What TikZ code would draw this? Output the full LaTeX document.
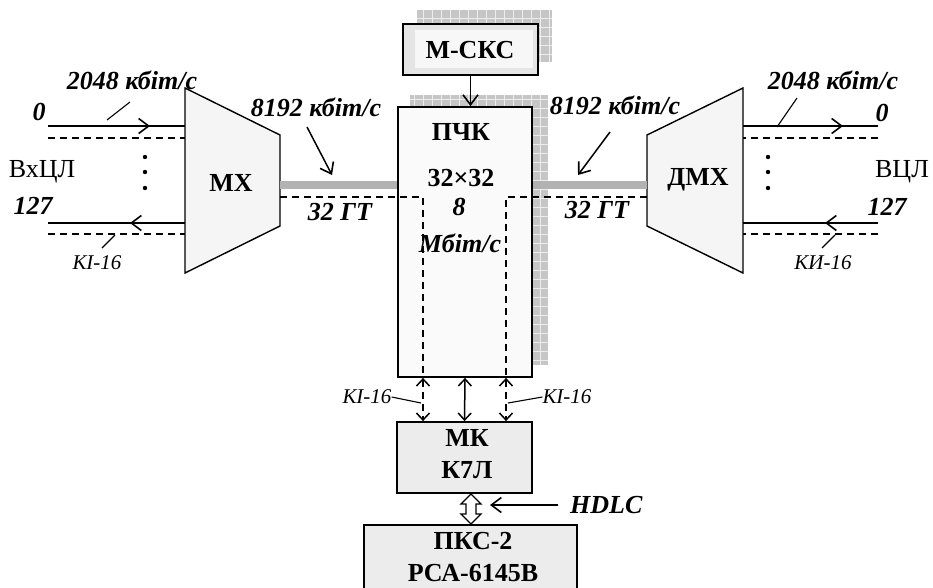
\documentclass[tikz,border=0pt]{standalone}
\usepackage{fontspec}
\setmainfont{Liberation Serif}
\usetikzlibrary{arrows.meta,calc}

\tikzset{
  bi/.style={font=\fontsize{26}{28}\selectfont\bfseries\itshape, inner sep=0pt},
  bb/.style={font=\fontsize{26}{32}\selectfont\bfseries, inner sep=0pt, align=center},
  rg/.style={font=\fontsize{26}{28}\selectfont, inner sep=0pt},
  ki/.style={font=\fontsize{21}{24}\selectfont\itshape, inner sep=0pt},
  blk/.style={draw, line width=1.8pt, inner sep=0pt},
  chan/.style={line width=1.5pt},
  dsh/.style={line width=1.4pt, dash pattern=on 7pt off 5pt},
  bus/.style={line width=8pt, gray!60},
  tip/.style={-{Straight Barb[length=10pt,width=15pt,line width=1.6pt]}},
  dtip/.style={{Straight Barb[length=7pt,width=13pt,line width=1.5pt]}-{Straight Barb[length=7pt,width=13pt,line width=1.5pt]}},
  lead/.style={line width=1.1pt}
}

\newcommand{\gridshadow}[2]{%
  \begin{scope}
    \clip #1 rectangle #2;
    \fill[gray!45] #1 rectangle #2;
    \draw[gray!15, line width=0.7pt, step=9pt] #1 grid #2;
  \end{scope}}

\begin{document}
\begin{tikzpicture}[x=1pt,y=-1pt]
  \useasboundingbox (0,0) rectangle (933,587);
  \clip (0,0) rectangle (933,587);

  % shadows
  \gridshadow{(410,95)}{(548,365)}
  \gridshadow{(417,10)}{(552,62)}

  % blocks
  \node[blk, fill=gray!4, minimum width=134pt, minimum height=270pt] (PCK) at (465,242) {};
  \node[blk, fill=gray!20, minimum width=135pt, minimum height=51pt,
        path picture={\fill[gray!6] ($(path picture bounding box.north west)+(12,6)$)
          rectangle ($(path picture bounding box.south east)+(-5,-7)$);}] (MSKS) at (470.5,49.5) {};
  \node[bb] (MSKStxt) at (470,50) {М-СКС};
  \node[blk, fill=gray!15, minimum width=135pt, minimum height=71pt] (MK) at (464.5,457.5) {};
  \node[bb] (MKtxt) at (467,454) {МК\\К7Л};
  \node[blk, fill=gray!15, minimum width=213pt, minimum height=90pt] (PKS) at (470.5,570) {};
  \node[bb] (PKStxt) at (473,557.5) {ПКС-2\\РСА-6145В};

  % multiplexer and demultiplexer
  \draw[line width=1.4pt, fill=gray!8] (185,88) coordinate (mxNW) -- (280,135) coordinate (mxNE)
    -- (280,226) -- (185,273) -- cycle;
  \draw[line width=1.4pt, fill=gray!8] (647,135) coordinate (dmNW) -- (743,88) coordinate (dmNE)
    -- (743,273) -- (647,226) -- cycle;
  \node[bb] (MX) at (231,183) {МХ};
  \node[bb] (DMX) at (698,180) {ДМХ};

  % switch texts
  \node[bb] (PCK1) at (461,132) {ПЧК};
  \node[bb] (PCK2) at (461,178) {32×32};
  \node[bi] (PCK3) at (459,207) {8};
  \node[bi] (PCK4) at (460,243) {Мбіт/с};

  % trunks to the switch
  \coordinate (mxO) at (280,185);
  \coordinate (dmO) at (647,185);
  \draw[bus] (mxO) -- (mxO -| PCK.west);
  \draw[bus] (dmO) -- (dmO -| PCK.east);
  \coordinate (xL) at (423,0);
  \coordinate (xR) at (506,0);
  \coordinate (mxD) at (280,197);
  \coordinate (dmD) at (647,197);
  \draw[dsh] (mxD) -- (mxD -| xL) -- (xL |- PCK.south);
  \draw[dsh] (dmD) -- (dmD -| xR) -- (xR |- PCK.south);

  % input lines
  \coordinate (in0) at (48,126);
  \coordinate (in0d) at (48,138);
  \coordinate (in127) at (48,223);
  \coordinate (in127d) at (48,234);
  \draw[chan] (in0) -- (in0 -| mxNW);
  \draw[dsh] (in0d) -- (in0d -| mxNW);
  \draw[chan] (in127) -- (in127 -| mxNW);
  \draw[dsh] (in127d) -- (in127d -| mxNW);
  \draw[chan, line width=2.2pt, tip] (107,126) -- (150,126);
  \draw[chan, line width=2.2pt, tip] (172,223) -- (130,223);
  \foreach \y in {157,172,188} \fill (145,\y) circle (2.2pt);

  % output lines
  \coordinate (out0) at (878,126);
  \coordinate (out0d) at (878,138);
  \coordinate (out127) at (878,223);
  \coordinate (out127d) at (878,234);
  \draw[chan] (out0) -- (out0 -| dmNE);
  \draw[dsh] (out0d) -- (out0d -| dmNE);
  \draw[chan] (out127) -- (out127 -| dmNE);
  \draw[dsh] (out127d) -- (out127d -| dmNE);
  \draw[chan, line width=2.2pt, tip] (802,126) -- (843,126);
  \draw[chan, line width=2.2pt, tip] (867,223) -- (825,223);
  \foreach \y in {157,172,188} \fill (768,\y) circle (2.2pt);

  % left labels
  \node[bi] (rateL) at (132,80) {2048 кбіт/с};
  \node[bi] (ch0L) at (39,112) {0};
  \node[bi] (ch127L) at (33,206) {127};
  \node[rg] (VxCL) at (42,172) {ВхЦЛ};
  \node[ki] (kiL) at (97,263) {КІ-16};
  \draw[lead] (107,120) -- (130,102);
  \draw[lead] (102,248) -- (115,235);
  \node[bi] (bus1) at (316,107) {8192 кбіт/с};
  \node[bi] (gt1) at (340,212) {32 ГТ};
  \draw[chan, tip] (307,127) -- (332,175);

  % right labels
  \node[bi] (rateR) at (833,80) {2048 кбіт/с};
  \node[bi] (ch0R) at (882,113) {0};
  \node[bi] (ch127R) at (887,207) {127};
  \node[rg] (VCL) at (902,172) {ВЦЛ};
  \node[ki] (kiR) at (823,263) {КИ-16};
  \draw[lead] (777,127) -- (797,98);
  \draw[lead] (822,248) -- (835,235);
  \node[bi] (bus2) at (615,105) {8192 кбіт/с};
  \node[bi] (gt2) at (597,210) {32 ГТ};
  \draw[chan, tip] (610,132) -- (578,175);

  % control
  \draw[chan, tip] (MSKS.south) -- (MSKS.south |- PCK.north);
  \draw[chan, dtip] (PCK.south) -- (MK.north);
  \draw[dsh, dtip] (xL |- PCK.south) -- (xL |- MK.north);
  \draw[dsh, dtip] (xR |- PCK.south) -- (xR |- MK.north);
  \node[ki] (kiC1) at (367,397) {КІ-16};
  \node[ki] (kiC2) at (567,397) {КІ-16};
  \draw[lead] (kiC1.east) -- (421,403);
  \draw[lead] (kiC2.west) -- (508,403);

  % HDLC link
  \draw[line width=1.3pt, fill=white] (471,494) -- (481,504) -- (476,504) -- (476,514)
    -- (481,514) -- (471,524) -- (461,514) -- (466,514) -- (466,504) -- (461,504) -- cycle;
  \node[bi, anchor=west] (HDLC) at (570,505) {HDLC};
  \draw[chan, tip] ($(HDLC.west)+(-12,0)$) -- (490,505);
\end{tikzpicture}
\end{document}
